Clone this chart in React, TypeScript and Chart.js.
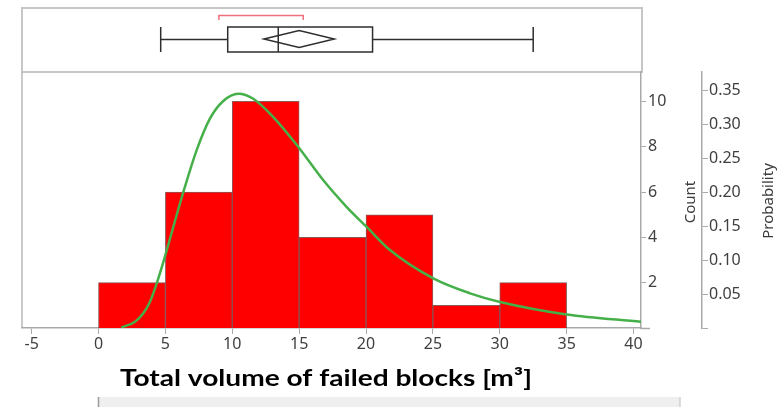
import React, { useEffect, useRef } from "react";
import { Chart, registerables } from "chart.js";

Chart.register(...registerables);

// Histogram bins (volume in m³) and their counts
const binEdges = [0, 5, 10, 15, 20, 25, 30, 35];
const binCounts = [2, 6, 10, 4, 5, 1, 2];

// Fitted density curve, expressed in count units
const fitX = [1.7, 2.73, 3.35, 3.85, 4.35, 4.84, 5.35, 5.85, 6.47, 7.34, 8.34, 9.33, 10.45, 11.57, 13.07, 14.94, 16.81, 18.56, 20.05, 21.79, 25.03, 27.78, 30.02, 35.0, 40.56];
const fitCount = [0.02, 0.28, 0.65, 1.16, 1.97, 2.9, 3.95, 5.0, 6.25, 7.85, 9.25, 10.02, 10.34, 10.12, 9.31, 7.99, 6.52, 5.34, 4.46, 3.44, 2.19, 1.53, 1.15, 0.6, 0.28];

// Outlier box plot: lower whisker, Q1, median, Q3, upper whisker
const boxFive = [4.65, 9.66, 13.44, 20.49, 32.5];
// Mean confidence diamond: lower, mean, upper
const meanDiamond = [12.37, 15.0, 17.63];
// Shortest half bracket
const shortestHalf = [9.0, 15.31];

const xMin = -5.72;
const xMax = 40.56;
const countMax = 11.3;
const totalN = binCounts.reduce((a, b) => a + b, 0);

const xTitle = "Total volume of failed blocks [m³]";
const countTitle = "Count";
const probTitle = "Probability";

const tickFont = { family: '"Noto Sans", "Open Sans", sans-serif', size: 16 };
const tickColor = "#3f3f3f";
const axisGray = "#a9a9a9";

const decorations = {
  id: "decorations",
  beforeDraw(chart: any) {
    const ctx = chart.ctx;
    const area = chart.chartArea;
    ctx.save();
    ctx.fillStyle = "#ffffff";
    ctx.fillRect(0, 0, chart.width, chart.height);
    // box plot panel
    ctx.strokeStyle = "#c6c6c6";
    ctx.lineWidth = 2;
    ctx.strokeRect(area.left, 8, area.right + 1 - area.left, 64);
    // histogram left border
    ctx.strokeStyle = "#b8b8b8";
    ctx.lineWidth = 1.5;
    ctx.beginPath();
    ctx.moveTo(area.left, area.top);
    ctx.lineTo(area.left, area.bottom);
    ctx.stroke();
    // x axis line runs slightly past the count axis
    ctx.strokeStyle = axisGray;
    ctx.beginPath();
    ctx.moveTo(area.right, area.bottom + 0.5);
    ctx.lineTo(area.right + 9, area.bottom + 0.5);
    ctx.stroke();
    // bottom grey strip
    ctx.fillStyle = "#efefef";
    ctx.fillRect(98, 397, 582, 10);
    ctx.strokeStyle = "#9a9a9a";
    ctx.lineWidth = 1.5;
    ctx.beginPath();
    ctx.moveTo(98.5, 397);
    ctx.lineTo(98.5, 407);
    ctx.stroke();
    ctx.strokeStyle = "#d0d0d0";
    ctx.beginPath();
    ctx.moveTo(680, 397);
    ctx.lineTo(680, 407);
    ctx.stroke();
    ctx.restore();
  },
  afterDraw(chart: any) {
    const ctx = chart.ctx;
    const x = chart.scales.x;
    const px = (v: number) => x.getPixelForValue(v);
    ctx.save();

    // box plot
    const yMid = 39.5;
    const yTop = 27;
    const yBot = 52;
    ctx.strokeStyle = "#2e2e2e";
    ctx.lineWidth = 1.5;
    ctx.beginPath();
    ctx.moveTo(px(boxFive[0]), yMid);
    ctx.lineTo(px(boxFive[1]), yMid);
    ctx.moveTo(px(boxFive[3]), yMid);
    ctx.lineTo(px(boxFive[4]), yMid);
    ctx.moveTo(px(boxFive[0]), yTop);
    ctx.lineTo(px(boxFive[0]), yBot);
    ctx.moveTo(px(boxFive[4]), yTop);
    ctx.lineTo(px(boxFive[4]), yBot);
    ctx.stroke();
    ctx.strokeRect(px(boxFive[1]), yTop, px(boxFive[3]) - px(boxFive[1]), yBot - yTop);
    ctx.beginPath();
    ctx.moveTo(px(boxFive[2]), yTop);
    ctx.lineTo(px(boxFive[2]), yBot);
    ctx.stroke();

    // mean diamond
    const dTop = 30.5;
    const dBot = 47.5;
    const dMid = 39;
    ctx.beginPath();
    ctx.moveTo(px(meanDiamond[0]), dMid);
    ctx.lineTo(px(meanDiamond[1]), dTop);
    ctx.lineTo(px(meanDiamond[2]), dMid);
    ctx.lineTo(px(meanDiamond[1]), dBot);
    ctx.closePath();
    ctx.stroke();

    // shortest half bracket
    ctx.strokeStyle = "#f0707c";
    ctx.lineWidth = 1.5;
    ctx.beginPath();
    ctx.moveTo(px(shortestHalf[0]), 20);
    ctx.lineTo(px(shortestHalf[0]), 15.5);
    ctx.lineTo(px(shortestHalf[1]), 15.5);
    ctx.lineTo(px(shortestHalf[1]), 20);
    ctx.stroke();

    // axis titles
    ctx.fillStyle = "#3a3a3a";
    ctx.font = '15px "Noto Sans", "Open Sans", sans-serif';
    ctx.textAlign = "center";
    ctx.textBaseline = "middle";
    ctx.save();
    ctx.translate(691, 202);
    ctx.rotate(-Math.PI / 2);
    ctx.fillText(countTitle, 0, 0);
    ctx.restore();
    ctx.save();
    ctx.translate(769, 201);
    ctx.rotate(-Math.PI / 2);
    ctx.fillText(probTitle, 0, 0);
    ctx.restore();

    // x title, fitted to its width
    ctx.fillStyle = "#000000";
    ctx.font = 'bold 23px Lato, "Open Sans", sans-serif';
    ctx.textAlign = "left";
    ctx.textBaseline = "alphabetic";
    const w = ctx.measureText(xTitle).width;
    const sx = 412 / w;
    ctx.save();
    ctx.translate(120, 386);
    ctx.scale(sx, 1);
    ctx.fillText(xTitle, 0, 0);
    ctx.restore();

    ctx.restore();
  },
};

export default function App() {
  const ref = useRef<HTMLCanvasElement | null>(null);

  useEffect(() => {
    if (!ref.current) return;
    const barData = binCounts.map((c, i) => ({ x: (binEdges[i] + binEdges[i + 1]) / 2, y: c }));
    const fitData = fitX.map((v, i) => ({ x: v, y: fitCount[i] }));

    const chart = new Chart(ref.current, {
      type: "bar",
      data: {
        datasets: [
          {
            type: "line",
            data: fitData,
            yAxisID: "yCount",
            borderColor: "#45b049",
            borderWidth: 2.5,
            pointRadius: 0,
            cubicInterpolationMode: "monotone",
            fill: false,
            order: 0,
          } as any,
          {
            type: "bar",
            data: barData,
            yAxisID: "yCount",
            backgroundColor: "#ff0000",
            borderColor: "rgba(120,60,60,0.85)",
            borderWidth: 1,
            barPercentage: 1,
            categoryPercentage: 1,
            grouped: false,
            order: 1,
          } as any,
        ],
      },
      options: {
        responsive: false,
        devicePixelRatio: 1,
        animation: false,
        layout: { padding: { left: 22, top: 72, right: 0, bottom: 0 } },
        plugins: { legend: { display: false }, tooltip: { enabled: false } },
        scales: {
          x: {
            type: "linear",
            position: "bottom",
            min: xMin,
            max: xMax,
            offset: false,
            grid: { offset: false, drawOnChartArea: false, tickLength: 6, color: axisGray },
            border: { color: axisGray, width: 1.5 },
            ticks: { stepSize: 5, includeBounds: false, font: tickFont, color: tickColor, padding: 1, maxRotation: 0 },
            afterFit: (s: any) => {
              s.height = 79;
            },
          },
          yCount: {
            type: "linear",
            position: "right",
            min: 0,
            max: countMax,
            grid: { drawOnChartArea: false, tickLength: 5, color: axisGray },
            border: { color: axisGray, width: 1.5 },
            ticks: { stepSize: 2, includeBounds: false, font: tickFont, color: tickColor, padding: 2 },
            afterBuildTicks: (s: any) => {
              s.ticks = s.ticks.filter((t: any) => t.value > 0);
            },
            afterFit: (s: any) => {
              s.width = 61;
            },
          },
          yProb: {
            type: "linear",
            position: "right",
            min: 0,
            max: countMax / totalN,
            grid: { drawOnChartArea: false, tickLength: 6, color: axisGray },
            border: { color: axisGray, width: 1.5 },
            ticks: {
              stepSize: 0.05,
              includeBounds: false,
              font: tickFont,
              color: tickColor,
              padding: 1,
              callback: (v: any) => (Number(v) < 1e-9 ? "" : Number(v).toFixed(2)),
            },
            afterFit: (s: any) => {
              s.width = 81;
            },
          },
        },
      } as any,
      plugins: [decorations],
    });
    return () => chart.destroy();
  }, []);

  return (
    <div style={{ position: "fixed", left: 0, top: 0, width: 783, height: 407 }}>
      <canvas ref={ref} width={783} height={407} style={{ display: "block" }} />
    </div>
  );
}
